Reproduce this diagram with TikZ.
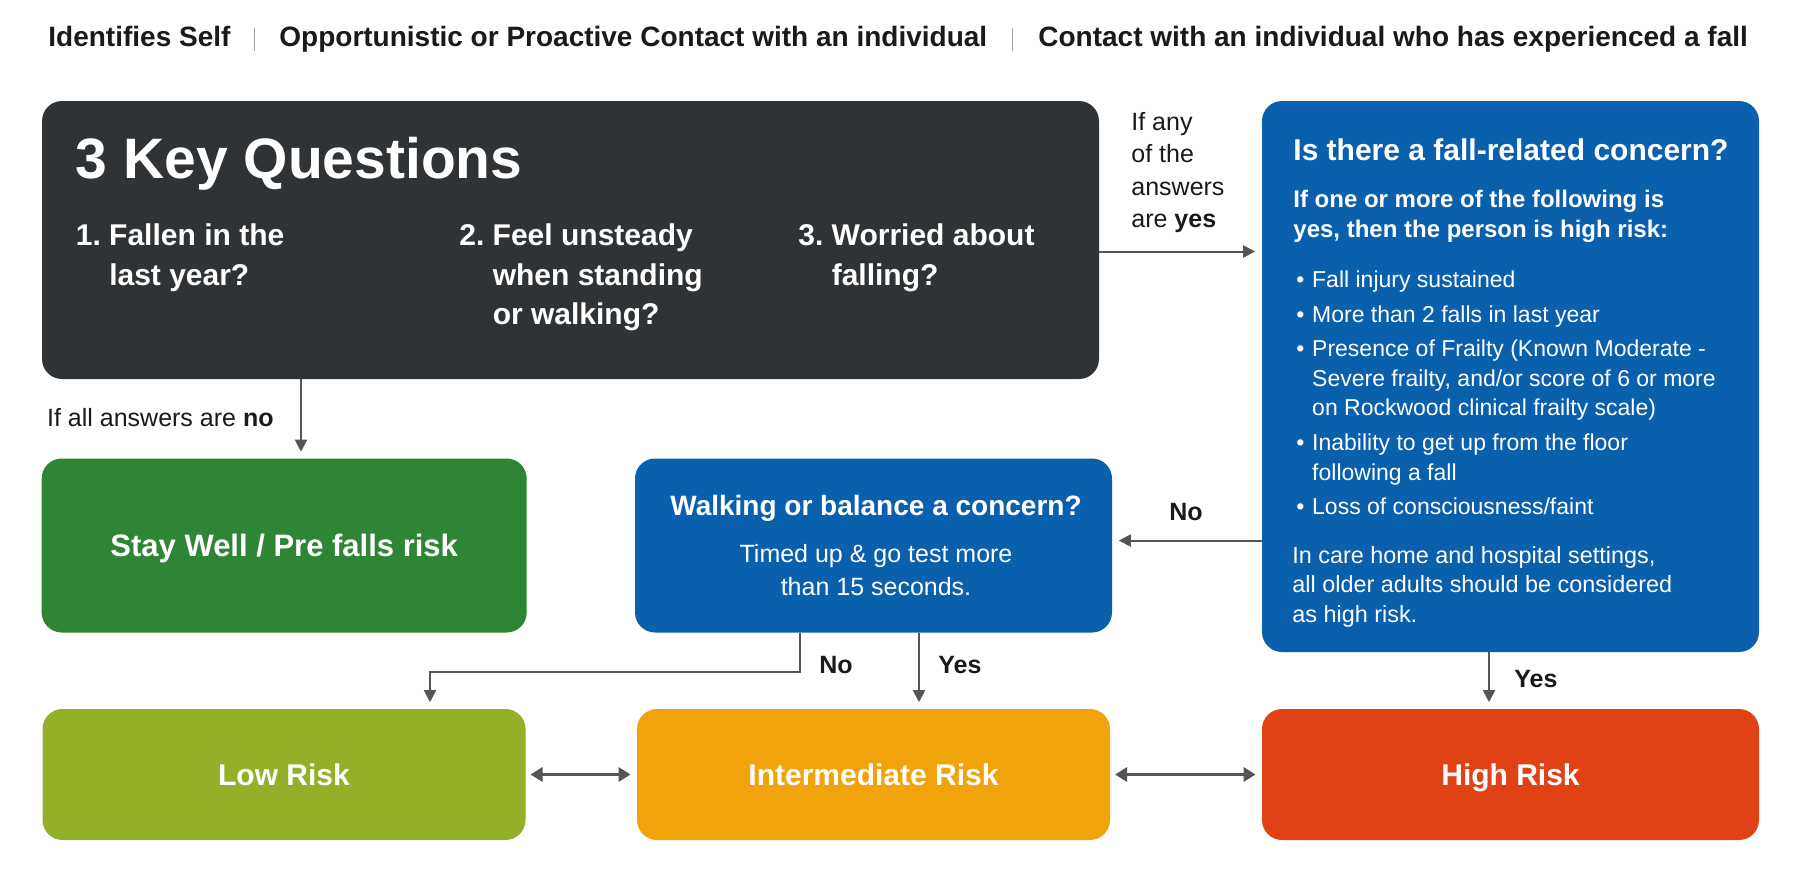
\documentclass[tikz,border=0pt]{standalone}
\usepackage{fontspec}
\setmainfont{Liberation Sans}
\usetikzlibrary{arrows.meta,calc}

\definecolor{keydark}{HTML}{303335}
\definecolor{riskblue}{HTML}{0A60AD}
\definecolor{staygreen}{HTML}{2E8533}
\definecolor{lowgreen}{HTML}{93B028}
\definecolor{midorange}{HTML}{F0A30A}
\definecolor{highred}{HTML}{E04216}
\definecolor{arrowgray}{HTML}{555555}
\definecolor{inktext}{HTML}{1A1A1A}

\newcommand{\fs}[2]{\fontsize{#1}{#2}\selectfont}
\newcommand{\bul}{\makebox[7.9pt][l]{\textbullet}}
\newcommand{\hang}{\hspace*{7.9pt}}
% first line on the node's baseline
\newcommand{\tlines}[2][l]{\begin{tabular}[t]{@{}#1@{}}#2\end{tabular}}

\tikzset{
  box/.style={rounded corners=10pt, inner sep=0pt, text=white, align=center, text depth=0pt},
  arr/.style={draw=arrowgray, line width=1pt, -{Triangle[length=6pt,width=6pt]}, shorten >=3.2pt},
  dbl/.style={draw=arrowgray, line width=1.6pt, {Triangle[length=6pt,width=7pt]}-{Triangle[length=6pt,width=7pt]}, shorten <=2.3pt, shorten >=3pt},
  lab/.style={inner sep=0pt, text=inktext, anchor=base west},
  wlab/.style={inner sep=0pt, text=white, anchor=base west},
  sepline/.style={draw=black!35, line width=0.5pt},
}

\begin{document}
\begin{tikzpicture}[x=0.5pt,y=-0.5pt]
\useasboundingbox[fill=white] (0,0) rectangle (1799,874);

% header row
\node[lab, font=\fs{14}{17}\bfseries] (self) at (48,46.7) {Identifies Self};
\node[lab, font=\fs{14}{17}\bfseries] (proact) at (279,46.7) {Opportunistic or Proactive Contact with an individual};
\node[lab, font=\fs{14}{17}\bfseries] (fallen) at (1038,46.7) {Contact with an individual who has experienced a fall};
\draw[sepline] ($(self.base east)!0.5!(proact.base west)$) ++(0,4) -- ++(0,-23);
\draw[sepline] ($(proact.base east)!0.5!(fallen.base west)$) ++(0,4) -- ++(0,-23);

% boxes
\node[box, fill=keydark, minimum width=528.5pt, minimum height=139pt] (keyq) at (570.5,240) {};
\node[box, fill=riskblue, minimum width=248.5pt, minimum height=275.5pt] (risk) at (1510.5,376.5) {};
\node[box, fill=staygreen, minimum width=242.5pt, minimum height=87pt, font=\fs{15.5}{18}\bfseries] (stay) at (284.2,545.5) {Stay Well / Pre falls risk};
\node[box, fill=riskblue, minimum width=238.5pt, minimum height=87pt] (walk) at (873.5,545.5) {};
\node[box, fill=lowgreen, minimum width=241.5pt, minimum height=65.5pt, font=\fs{15}{18}\bfseries] (low) at (284,774.5) {Low Risk};
\node[box, fill=midorange, minimum width=236.5pt, minimum height=65.5pt, font=\fs{15}{18}\bfseries] (interm) at (873.5,774.5) {Intermediate Risk};
\node[box, fill=highred, minimum width=248.5pt, minimum height=65.5pt, font=\fs{15}{18}\bfseries] (high) at (1510.5,774.5) {High Risk};

% key questions
\node[wlab, font=\fs{28.5}{32}\bfseries] (kqtitle) at (75.5,178) {3 Key Questions};
\node[wlab, font=\fs{15}{19.7}\bfseries] (q1) at (75.5,245.7) {\tlines{1.~Fallen in the\\\phantom{1.~}last year?}};
\node[wlab, font=\fs{15}{19.7}\bfseries] (q2) at (459,245.7) {\tlines{2.~Feel unsteady\\\phantom{2.~}when standing\\\phantom{2.~}or walking?}};
\node[wlab, font=\fs{15}{19.7}\bfseries] (q3) at (798,245.7) {\tlines{3.~Worried about\\\phantom{3.~}falling?}};

% fall-related concern
\node[wlab, font=\fs{15}{18}\bfseries] (rtitle) at (1293,160) {Is there a fall-related concern?};
\node[wlab, font=\fs{12}{15.25}\bfseries] (rsub) at (1293,207) {\tlines{If one or more of the following is\\yes, then the person is high risk:}};
\node[wlab, font=\fs{11.5}{14.85}] (rlist) at (1296,287.5) {\tlines{\bul Fall injury sustained\\[2.4pt]
  \bul More than 2 falls in last year\\[2.4pt]
  \bul Presence of Frailty (Known Moderate -\\
  \hang Severe frailty, and/or score of 6 or more\\
  \hang on Rockwood clinical frailty scale)\\[2.4pt]
  \bul Inability to get up from the floor\\
  \hang following a fall\\[2.4pt]
  \bul Loss of consciousness/faint}};
\node[wlab, font=\fs{11.7}{14.75}] (rnote) at (1292,563) {\tlines{In care home and hospital settings,\\all older adults should be considered\\as high risk.}};

% walking or balance
\node[inner sep=0pt, text=white, anchor=base, font=\fs{14}{17}\bfseries] (wtitle) at (876,515.7) {Walking or balance a concern?};
\node[inner sep=0pt, text=white, anchor=base, font=\fs{12.5}{16.5}] (wtest) at (876,562.7) {\tlines[c]{Timed up \& go test more\\than 15 seconds.}};

% connectors
\coordinate (nox) at (301,0);
\coordinate (yesy) at (0,251.5);
\coordinate (noy) at (0,540.5);
\coordinate (wnox) at (800,0);
\coordinate (bend) at (430,672);
\coordinate (wyesx) at (919,0);
\coordinate (hx) at (1489,0);

\draw[arr] (keyq.south -| nox) -- (stay.north -| nox);
\node[lab, anchor=base east, font=\fs{12.5}{15}] (nolab) at (274,426) {If all answers are \textbf{no}};

\draw[arr] (keyq.east |- yesy) -- (risk.west |- yesy);
\node[lab, font=\fs{12.5}{16.25}] (yeslab) at (1131,130) {\tlines{If any\\of the\\answers\\are \textbf{yes}}};

\draw[arr] (risk.west |- noy) -- (walk.east |- noy);
\node[lab, font=\fs{12.5}{15}\bfseries] (walkno) at (1169,520) {No};

\draw[arr] (walk.south -| wnox) |- (bend) -- (low.north -| bend);
\node[lab, font=\fs{12.5}{15}\bfseries] (lowno) at (819,673) {No};
\draw[arr] (walk.south -| wyesx) -- (interm.north -| wyesx);
\node[lab, font=\fs{12.5}{15}\bfseries] (midyes) at (938,673) {Yes};

\draw[arr] (risk.south -| hx) -- (high.north -| hx);
\node[lab, font=\fs{12.5}{15}\bfseries] (highyes) at (1514,687) {Yes};

\draw[dbl] (low) -- (interm);
\draw[dbl] (interm) -- (high);
\end{tikzpicture}
\end{document}
